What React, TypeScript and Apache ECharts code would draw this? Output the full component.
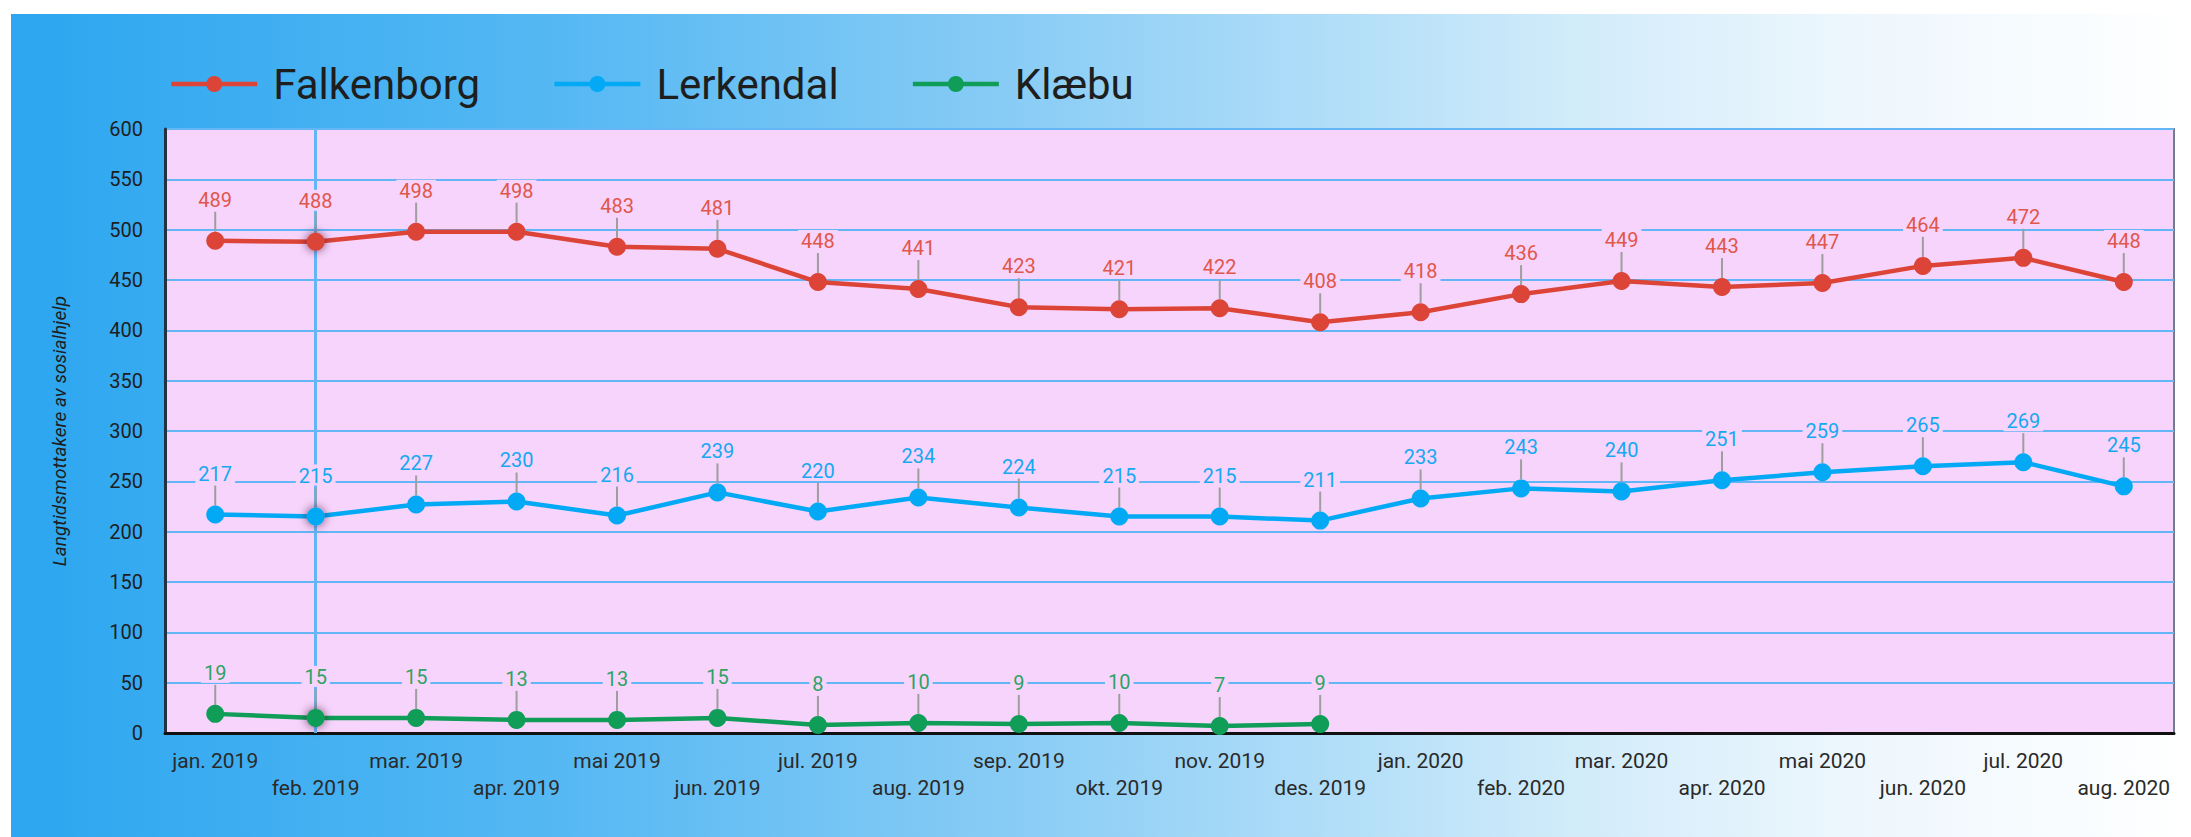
import React, { useEffect, useRef } from "react";
import * as echarts from "echarts";

const categories = [
  "jan. 2019", "feb. 2019", "mar. 2019", "apr. 2019", "mai 2019", "jun. 2019",
  "jul. 2019", "aug. 2019", "sep. 2019", "okt. 2019", "nov. 2019", "des. 2019",
  "jan. 2020", "feb. 2020", "mar. 2020", "apr. 2020", "mai 2020", "jun. 2020",
  "jul. 2020", "aug. 2020",
];
const falkenborg = [489, 488, 498, 498, 483, 481, 448, 441, 423, 421, 422, 408, 418, 436, 449, 443, 447, 464, 472, 448];
const lerkendal = [217, 215, 227, 230, 216, 239, 220, 234, 224, 215, 215, 211, 233, 243, 240, 251, 259, 265, 269, 245];
const klaebu = [19, 15, 15, 13, 13, 15, 8, 10, 9, 10, 7, 9];
const seriesNames = ["Falkenborg", "Lerkendal", "Klæbu"];
const seriesColors = ["#db4437", "#03a9f4", "#0f9d58"];
const labelColors = ["#e0574c", "#16a8f0", "#2fa266"];
const yTitle = "Langtidsmottakere av sosialhjelp";
const highlightIndex = 1;

const PLOT_BG = "#f7d4fc";

export default function App() {
  const ref = useRef<HTMLDivElement>(null);
  useEffect(() => {
    document.body.style.margin = "0";
    const chart = echarts.init(ref.current!, null, { renderer: "svg" });
    const all = [falkenborg, lerkendal, klaebu];
    const leaderData: number[][] = [];
    all.forEach((arr) => arr.forEach((v, i) => leaderData.push([i, v])));

    const mkData = (arr: number[]) =>
      arr.map((v, i) =>
        i === highlightIndex
          ? { value: v, itemStyle: { shadowBlur: 10, shadowColor: "rgba(60,0,40,0.7)" } }
          : v
      );

    const lineSeries = all.map((arr, k) => ({
      name: seriesNames[k],
      type: "line",
      data: mkData(arr),
      symbol: "circle",
      symbolSize: 18,
      showSymbol: true,
      z: 3,
      lineStyle: { color: seriesColors[k], width: 4.5 },
      itemStyle: { color: seriesColors[k] },
      emphasis: { disabled: true },
      label: {
        show: true,
        position: "top",
        distance: 22,
        color: labelColors[k],
        fontFamily: "Roboto",
        fontSize: 20,
        backgroundColor: PLOT_BG,
        padding: [1, 3, 0, 3],
      },
      ...(k === 0
        ? {
            markLine: {
              silent: true,
              symbol: "none",
              label: { show: false },
              lineStyle: { color: "#64b5f6", width: 3, type: "solid" },
              data: [{ xAxis: categories[highlightIndex] }],
              z: 2,
            },
          }
        : {}),
    }));

    chart.setOption({
      animation: false,
      graphic: [
        {
          type: "rect",
          z: -100,
          silent: true,
          shape: { x: 11, y: 14, width: 2180, height: 823 },
          style: {
            fill: new echarts.graphic.LinearGradient(0, 0, 1, 0, [
              { offset: 0, color: "#2ca6f0" },
              { offset: 0.25, color: "#55b8f3" },
              { offset: 0.45, color: "#86cbf5" },
              { offset: 0.6, color: "#afddf8" },
              { offset: 0.72, color: "#d2ecfa" },
              { offset: 0.85, color: "#eef7fd" },
              { offset: 1, color: "#ffffff" },
            ]),
          },
        },
      ],
      legend: {
        data: seriesNames,
        left: 164,
        top: 58,
        itemWidth: 86,
        itemHeight: 20,
        itemGap: 72,
        lineStyle: { width: 4.5 },
        textStyle: {
          fontFamily: "Roboto",
          fontSize: 42,
          color: "#1e1e1e",
          padding: [0, 0, 0, 11],
        },
      },
      grid: {
        left: 165,
        right: 17,
        top: 129,
        bottom: 104,
        show: true,
        backgroundColor: PLOT_BG,
        borderColor: "#6e7e8e",
        borderWidth: 2,
      },
      xAxis: {
        type: "category",
        data: categories,
        boundaryGap: true,
        axisLine: { show: true, lineStyle: { color: "#111", width: 3 } },
        axisTick: { show: false },
        axisLabel: {
          interval: 0,
          margin: 14,
          fontFamily: "Roboto",
          fontSize: 21,
          lineHeight: 27,
          color: "#2a2a2a",
          formatter: (v: string, i: number) => (i % 2 === 1 ? "\n" + v : v),
        },
        splitLine: { show: false },
      },
      yAxis: {
        type: "value",
        min: 0,
        max: 600,
        interval: 50,
        name: yTitle,
        nameLocation: "middle",
        nameGap: 96,
        nameTextStyle: {
          fontFamily: "Roboto",
          fontSize: 19,
          fontStyle: "italic",
          color: "#1e1e1e",
        },
        axisLine: { show: true, lineStyle: { color: "#243240", width: 3 } },
        axisTick: { show: false },
        axisLabel: {
          margin: 22,
          fontFamily: "Roboto",
          fontSize: 20,
          color: "#1e1e1e",
        },
        splitLine: { show: true, lineStyle: { color: "#64b5f6", width: 2 } },
      },
      series: [
        {
          name: "leader",
          type: "custom",
          coordinateSystem: "cartesian2d",
          silent: true,
          z: 2,
          data: leaderData,
          encode: { x: 0, y: 1 },
          renderItem: (_p: any, api: any) => {
            const pt = api.coord([api.value(0), api.value(1)]);
            return {
              type: "line",
              shape: { x1: pt[0], y1: pt[1] - 9, x2: pt[0], y2: pt[1] - 29 },
              style: { stroke: "#9e9e9e", lineWidth: 2 },
            };
          },
        },
        ...lineSeries,
      ],
    });
    return () => chart.dispose();
  }, []);
  return <div ref={ref} style={{ width: 2191, height: 837 }} />;
}
